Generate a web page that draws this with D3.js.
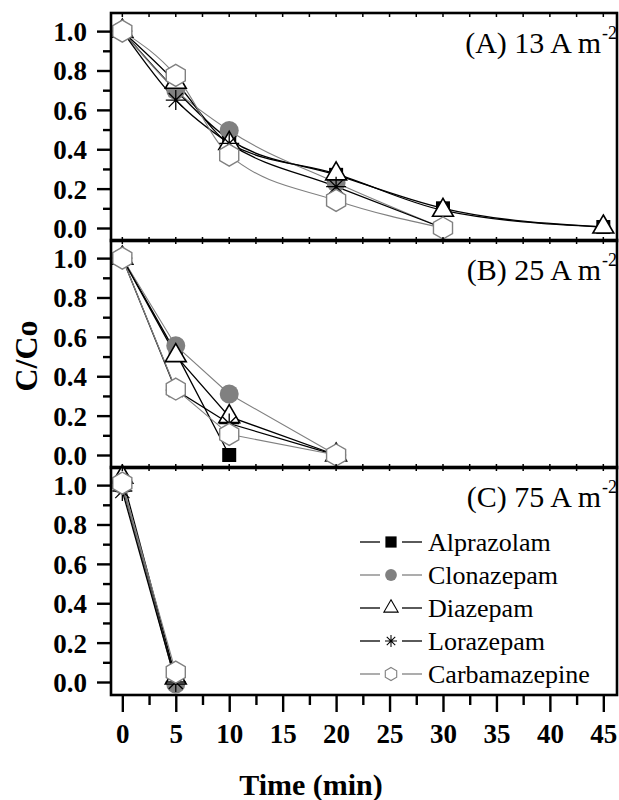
<!DOCTYPE html>
<html><head><meta charset="utf-8">
<script src="https://cdn.jsdelivr.net/npm/d3@7"></script>
<style>body{margin:0;background:#fff}svg{display:block}</style>
</head><body>
<script>
// ---- data ----
const compounds = ["Alprazolam","Clonazepam","Diazepam","Lorazepam","Carbamazepine"];
const panelNames = ["(A) 13 A m","(B) 25 A m","(C) 75 A m"];
const panelSup = ["-2","-2","-2"];
const xTicks = [0,5,10,15,20,25,30,35,40,45];
const yTicks = [0.0,0.2,0.4,0.6,0.8,1.0];

const timesA = [0,5,10,20,30,45];
const alprazolamA   = [1.0,0.70,0.45,0.27,0.10,0.005];
const clonazepamA   = [1.0,0.70,0.495,0.23,0.0,null];
const diazepamA     = [1.0,0.74,0.43,0.275,0.09,0.005];
const lorazepamA    = [1.0,0.65,0.43,0.21,0.0,null];
const carbamazepineA= [1.0,0.775,0.37,0.14,0.0,null];

const timesB = [0,5,10,20];
const alprazolamB   = [1.0,0.52,0.0,null];
const clonazepamB   = [1.0,0.555,0.31,0.0];
const diazepamB     = [1.0,0.505,0.195,0.0];
const lorazepamB    = [1.0,0.33,0.16,0.0];
const carbamazepineB= [1.0,0.335,0.105,0.0];

const timesC = [0,5];
const alprazolamC   = [1.0,0.0];
const clonazepamC   = [1.0,-0.01];
const diazepamC     = [1.04,0.02];
const lorazepamC    = [0.97,0.0];
const carbamazepineC= [1.01,0.05];

const panelTimes = [timesA,timesB,timesC];
const panelSeries = [
  [alprazolamA,clonazepamA,diazepamA,lorazepamA,carbamazepineA],
  [alprazolamB,clonazepamB,diazepamB,lorazepamB,carbamazepineB],
  [alprazolamC,clonazepamC,diazepamC,lorazepamC,carbamazepineC]
];

// ---- styles ----
const lineColor = ["#000","#808080","#000","#000","#808080"];
const GRAY = "#808080";
const FONT = "'Liberation Serif','Times New Roman',serif";

const W = 619, H = 800;
const svg = d3.select("body").append("svg").attr("width",W).attr("height",H);

const x = d3.scaleLinear().domain([-1.06,46.28]).range([111,617]);
const panelTop = [13,240,467];
const panelH = 228;

function marker(g, type, cx, cy, s) {
  if (type===0) {
    const a = 14*s;
    g.append("rect").attr("x",cx-a/2).attr("y",cy-a/2).attr("width",a).attr("height",a).attr("fill","#000");
  } else if (type===1) {
    g.append("circle").attr("cx",cx).attr("cy",cy).attr("r",9.5*s).attr("fill",GRAY);
  } else if (type===2) {
    const r = 12*s;
    const pts = [[cx,cy-r],[cx+r*0.87,cy+r*0.5],[cx-r*0.87,cy+r*0.5]];
    g.append("path").attr("d","M"+pts.map(p=>p.join(",")).join("L")+"Z")
      .attr("fill","#fff").attr("stroke","#000").attr("stroke-width",1.6*Math.max(s,0.7));
  } else if (type===3) {
    const r = 10*s;
    let d="";
    for (let k=0;k<4;k++){
      const a=k*Math.PI/4;
      d+=`M${cx-r*Math.cos(a)},${cy-r*Math.sin(a)}L${cx+r*Math.cos(a)},${cy+r*Math.sin(a)}`;
    }
    g.append("path").attr("d",d).attr("stroke","#000").attr("stroke-width",1.3*Math.max(s,0.8)).attr("fill","none");
  } else {
    const r = 11*s;
    const pts = d3.range(6).map(k=>{const a=-Math.PI/2+k*Math.PI/3;return [cx+r*Math.cos(a),cy+r*Math.sin(a)];});
    g.append("path").attr("d","M"+pts.map(p=>p.join(",")).join("L")+"Z")
      .attr("fill","#fff").attr("stroke",GRAY).attr("stroke-width",1.4*Math.max(s,0.8));
  }
}

panelTop.forEach((top,pi)=>{
  const y = d3.scaleLinear().domain([-0.066,1.092]).range([top+panelH, top]);
  const g = svg.append("g");
  const times = panelTimes[pi];
  const series = panelSeries[pi];

  const curve = pi===0 ? d3.curveMonotoneX : d3.curveLinear;
  series.forEach((vals,si)=>{
    const pts = times.map((t,i)=>[t,vals[i]]).filter(p=>p[1]!==null);
    const line = d3.line().x(d=>x(d[0])).y(d=>y(d[1])).curve(curve);
    g.append("path").attr("d",line(pts)).attr("fill","none")
      .attr("stroke",lineColor[si]).attr("stroke-width",si===1||si===4?1.1:1.3);
  });
  series.forEach((vals,si)=>{
    times.forEach((t,i)=>{ if(vals[i]!==null) marker(g,si,x(t),y(vals[i]),1); });
  });

  const yAx = d3.axisLeft(y).tickValues(yTicks).tickSize(14).tickFormat(d3.format(".1f"));
  const ya = svg.append("g").attr("transform","translate(111,0)").call(yAx);
  ya.select(".domain").remove();
  ya.selectAll(".tick line").attr("stroke-width",2.4);
  ya.selectAll(".tick text").attr("font-family",FONT).attr("font-weight","bold").attr("font-size",27).attr("x",-24).attr("dy","0.35em");
  const yMinor = d3.axisLeft(y).tickValues([0.1,0.3,0.5,0.7,0.9]).tickSize(8).tickFormat("");
  const ym = svg.append("g").attr("transform","translate(111,0)").call(yMinor);
  ym.select(".domain").remove();
  ym.selectAll(".tick line").attr("stroke-width",2.4);

  const xt = d3.range(0,46,2.5);
  svg.append("g").selectAll("line").data(xt).join("line")
    .attr("x1",d=>x(d)).attr("x2",d=>x(d)).attr("y1",top).attr("y2",top+4)
    .attr("stroke","#000").attr("stroke-width",1.5);
  if (pi<2) {
    svg.append("g").selectAll("line").data(xt).join("line")
      .attr("x1",d=>x(d)).attr("x2",d=>x(d)).attr("y1",top+panelH-4).attr("y2",top+panelH)
      .attr("stroke","#000").attr("stroke-width",1.5);
  }

  svg.append("rect").attr("x",111).attr("y",top).attr("width",617-111).attr("height",panelH)
    .attr("fill","none").attr("stroke","#000").attr("stroke-width",2.6);

  svg.append("text").attr("x",601).attr("y",top+40).attr("text-anchor","end")
    .attr("font-family",FONT).attr("font-size",30).text(panelNames[pi]);
  svg.append("text").attr("x",602).attr("y",top+26).attr("font-family",FONT).attr("font-size",18).text(panelSup[pi]);
});

// bottom x axis
const bottom = panelTop[2]+panelH;
const xAx = d3.axisBottom(x).tickValues(xTicks).tickSize(17).tickFormat(d3.format("d"));
const xa = svg.append("g").attr("transform",`translate(0,${bottom})`).call(xAx);
xa.select(".domain").remove();
xa.selectAll(".tick line").attr("stroke-width",2.4);
xa.selectAll(".tick text").attr("font-family",FONT).attr("font-weight","bold").attr("font-size",27).attr("y",48).attr("dy","0");
const xMinor = d3.axisBottom(x).tickValues(d3.range(2.5,45,5)).tickSize(10).tickFormat("");
const xm = svg.append("g").attr("transform",`translate(0,${bottom})`).call(xMinor);
xm.select(".domain").remove();
xm.selectAll(".tick line").attr("stroke-width",2.4);

// axis titles
svg.append("text").attr("x",311).attr("y",795).attr("text-anchor","middle")
  .attr("font-family",FONT).attr("font-weight","bold").attr("font-size",30).text("Time (min)");
svg.append("text").attr("transform","translate(37,356) rotate(-90)").attr("text-anchor","middle")
  .attr("font-family",FONT).attr("font-weight","bold").attr("font-size",32).text("C/Co");

// legend
const lg = svg.append("g");
const legY0 = 542, legDy = 33;
const legScale = [0.8,0.62,0.68,0.6,0.6];
compounds.forEach((c,i)=>{
  const yy = legY0 + i*legDy;
  lg.append("line").attr("x1",360).attr("x2",380).attr("y1",yy).attr("y2",yy).attr("stroke",lineColor[i]).attr("stroke-width",1.3);
  lg.append("line").attr("x1",402).attr("x2",422).attr("y1",yy).attr("y2",yy).attr("stroke",lineColor[i]).attr("stroke-width",1.3);
  marker(lg,i,391,yy,legScale[i]);
  lg.append("text").attr("x",428).attr("y",yy).attr("dy","0.33em").attr("font-family",FONT).attr("font-size",26).text(c);
});
</script>
</body></html>
